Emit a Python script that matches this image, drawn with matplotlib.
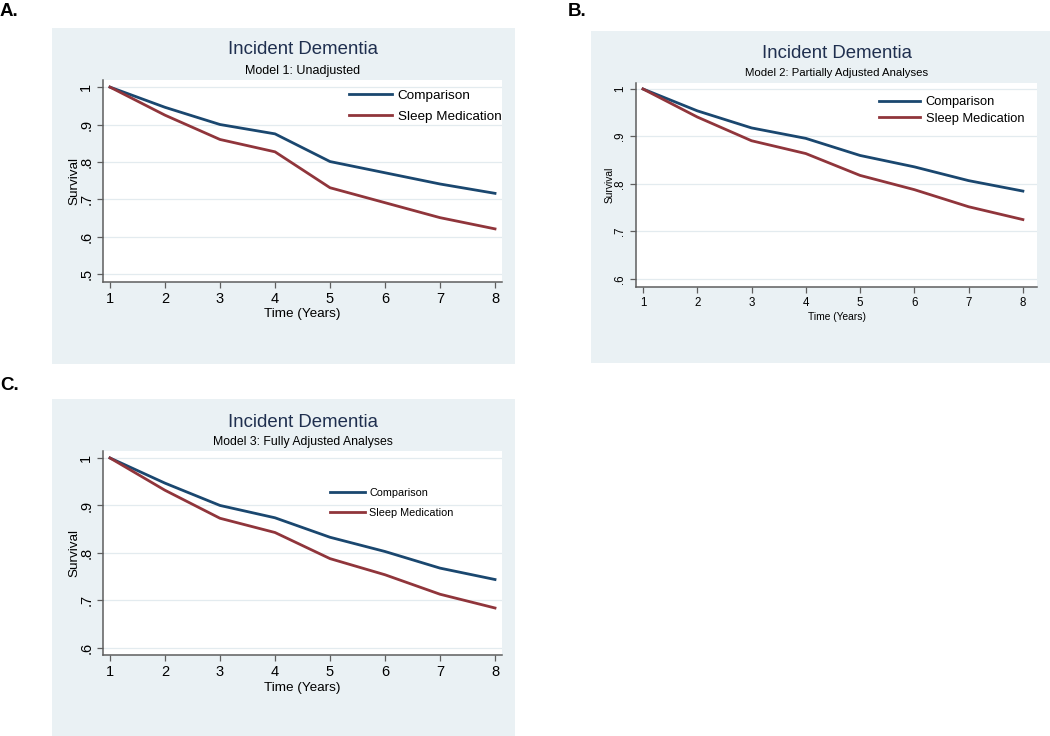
import numpy as np
import matplotlib
matplotlib.use("Agg")
import matplotlib.pyplot as plt
from matplotlib.patches import Rectangle

plt.rcParams["font.family"] = ["Liberation Sans", "DejaVu Sans"]

# ---- data ----
years = [1, 2, 3, 4, 5, 6, 7, 8]

model1_comparison = [1.0, 0.946, 0.900, 0.875, 0.801, 0.771, 0.741, 0.716]
model1_sleep_med = [1.0, 0.925, 0.860, 0.827, 0.731, 0.691, 0.651, 0.621]

model2_comparison = [1.0, 0.954, 0.918, 0.896, 0.860, 0.836, 0.807, 0.785]
model2_sleep_med = [1.0, 0.941, 0.891, 0.864, 0.818, 0.788, 0.752, 0.725]

model3_comparison = [1.0, 0.947, 0.900, 0.874, 0.833, 0.803, 0.768, 0.744]
model3_sleep_med = [1.0, 0.932, 0.873, 0.843, 0.788, 0.754, 0.713, 0.684]

series_labels = ["Comparison", "Sleep Medication"]
y_ticks_a = [0.5, 0.6, 0.7, 0.8, 0.9, 1.0]
y_ticks_bc = [0.6, 0.7, 0.8, 0.9, 1.0]

NAVY = "#1a476f"
MAROON = "#90353b"
BOX_BG = "#eaf1f4"
GRID = "#e3ebef"
SPINE = "#5e5e5e"

W, H = 1050, 736
fig = plt.figure(figsize=(W / 100, H / 100), dpi=100)
fig.patch.set_facecolor("white")


def px_rect(x0, y0, x1, y1):
    # pixel box (top-left origin) -> figure fraction [left, bottom, width, height]
    return [x0 / W, 1 - y1 / H, (x1 - x0) / W, (y1 - y0) / H]


def tick_fmt(v):
    return "1" if v == 1.0 else f"{v:.1f}".lstrip("0")


def panel(box, area, comp, sleep, ticks, ylim, xlim, title_y, sub, sub_y,
          tick_fs, lab_fs, sub_fs, leg_fs, leg_anchor, leg_gap, ylab_pad):
    bx0, by0, bx1, by1 = box
    fig.add_artist(Rectangle((bx0 / W, 1 - by1 / H), (bx1 - bx0) / W,
                             (by1 - by0) / H, transform=fig.transFigure,
                             facecolor=BOX_BG, edgecolor="none", zorder=0))
    ax = fig.add_axes(px_rect(*area))
    ax.set_facecolor("white")
    ax.plot(years, comp, color=NAVY, lw=2.0, label=series_labels[0], zorder=3)
    ax.plot(years, sleep, color=MAROON, lw=2.0, label=series_labels[1], zorder=3)

    ax.set_xlim(*xlim)
    ax.set_ylim(*ylim)
    ax.set_xticks(years)
    ax.set_yticks(ticks)
    ax.set_yticklabels([tick_fmt(t) for t in ticks], rotation=90, va="center")
    ax.tick_params(axis="both", labelsize=tick_fs, color=SPINE, length=4,
                   width=0.9, pad=3)
    ax.yaxis.grid(True, color=GRID, lw=0.9)
    ax.set_axisbelow(True)
    for s in ("top", "right"):
        ax.spines[s].set_visible(False)
    for s in ("left", "bottom"):
        ax.spines[s].set_color(SPINE)
        ax.spines[s].set_linewidth(1.1)
    ax.set_xlabel("Time (Years)", fontsize=lab_fs, labelpad=2)
    ax.set_ylabel("Survival", fontsize=lab_fs, labelpad=ylab_pad)

    cx = (area[0] + area[2]) / 2 / W
    fig.text(cx, 1 - title_y / H, "Incident Dementia", fontsize=13.4,
             color="#1f2f4f", ha="center", va="center")
    fig.text(cx, 1 - sub_y / H, sub, fontsize=sub_fs, ha="center", va="center")

    ax.legend(loc="upper left", bbox_to_anchor=leg_anchor, frameon=False,
              fontsize=leg_fs, handlelength=3.2, handletextpad=0.4,
              borderpad=0, borderaxespad=0, labelspacing=leg_gap)
    return ax


# A
panel((52, 28, 515, 364), (103, 80, 502, 282), model1_comparison,
      model1_sleep_med, y_ticks_a, (0.479, 1.019), (0.873, 8.127),
      50, "Model 1: Unadjusted", 71, 10.5, 9.7, 9, 9.7, (0.617, 0.955), 0.65,
      -1)
# B
panel((591, 31, 1050, 363), (636, 83, 1037, 287), model2_comparison,
      model2_sleep_med, y_ticks_bc, (0.583, 1.0126), (0.871, 8.26),
      53, "Model 2: Partially Adjusted Analyses", 73, 8.3, 7.4, 8.2, 9.3,
      (0.606, 0.935), 0.35, 0)
# C
panel((52, 399, 515, 736), (103, 451, 502, 655), model3_comparison,
      model3_sleep_med, y_ticks_bc, (0.585, 1.0147), (0.873, 8.127),
      422, "Model 3: Fully Adjusted Analyses", 442, 10.5, 9.7, 8.8, 7.8,
      (0.569, 0.82), 0.95, -1)

# panel letters
fig.text(0 / W, 1 - 12 / H, "A.", fontsize=13.5, fontweight="bold", va="center")
fig.text(568 / W, 1 - 12 / H, "B.", fontsize=13.5, fontweight="bold", va="center")
fig.text(0 / W, 1 - 385 / H, "C.", fontsize=13.5, fontweight="bold", va="center")

fig.savefig("out.png", dpi=100)
